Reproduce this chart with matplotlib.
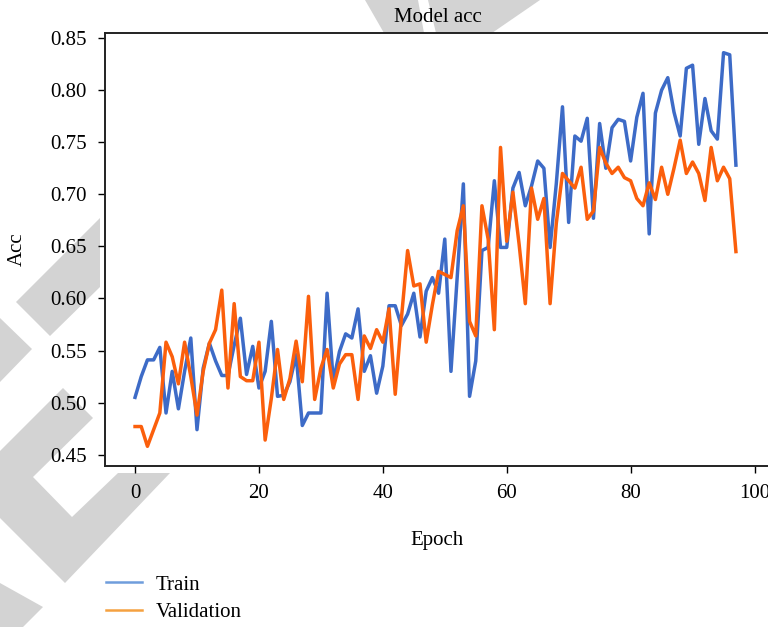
import numpy as np
import matplotlib
matplotlib.use('Agg')
import matplotlib.pyplot as plt
from matplotlib.lines import Line2D
from matplotlib.patches import Polygon

train = [0.505, 0.525, 0.541, 0.541, 0.553, 0.490, 0.530, 0.494, 0.530, 0.562,
         0.474, 0.533, 0.557, 0.540, 0.526, 0.526, 0.555, 0.581, 0.527, 0.554,
         0.514, 0.530, 0.578, 0.506, 0.507, 0.520, 0.546, 0.478, 0.490, 0.490,
         0.490, 0.605, 0.520, 0.549, 0.566, 0.562, 0.590, 0.530, 0.545, 0.509,
         0.535, 0.593, 0.593, 0.574, 0.585, 0.605, 0.563, 0.607, 0.620, 0.605,
         0.657, 0.530, 0.620, 0.710, 0.506, 0.540, 0.646, 0.649, 0.713, 0.649,
         0.649, 0.706, 0.721, 0.689, 0.708, 0.732, 0.725, 0.649, 0.710, 0.784,
         0.673, 0.756, 0.751, 0.773, 0.677, 0.768, 0.725, 0.764, 0.772, 0.770,
         0.732, 0.774, 0.797, 0.662, 0.778, 0.800, 0.812, 0.779, 0.756, 0.821,
         0.824, 0.748, 0.792, 0.761, 0.753, 0.836, 0.834, 0.728]

validation = [0.477, 0.477, 0.458, 0.474, 0.490, 0.558, 0.544, 0.518, 0.558, 0.525,
              0.488, 0.530, 0.557, 0.570, 0.608, 0.514, 0.595, 0.525, 0.521, 0.521,
              0.558, 0.464, 0.504, 0.551, 0.503, 0.523, 0.559, 0.520, 0.602, 0.503,
              0.533, 0.551, 0.514, 0.537, 0.546, 0.546, 0.503, 0.564, 0.552, 0.570,
              0.558, 0.590, 0.508, 0.581, 0.646, 0.612, 0.614, 0.558, 0.594, 0.626,
              0.623, 0.620, 0.665, 0.689, 0.578, 0.564, 0.689, 0.657, 0.570, 0.745,
              0.655, 0.702, 0.652, 0.595, 0.706, 0.676, 0.696, 0.595, 0.672, 0.720,
              0.713, 0.706, 0.726, 0.676, 0.684, 0.745, 0.730, 0.720, 0.726, 0.716,
              0.713, 0.696, 0.689, 0.711, 0.695, 0.726, 0.700, 0.725, 0.752, 0.720,
              0.731, 0.720, 0.694, 0.745, 0.713, 0.726, 0.715, 0.645]

epochs = np.arange(len(train))
labels = ['Train', 'Validation']

plt.rcParams['font.family'] = ['Liberation Serif', 'DejaVu Serif']
plt.rcParams['font.size'] = 15

W, H = 768, 627
fig = plt.figure(figsize=(W / 100, H / 100), dpi=100)

# grey watermark shapes behind the plot (pixel coords of the picture)
marks = [
    [(365, 0), (418, 0), (424, 33), (384, 33)],
    [(428, 0), (540, 0), (492, 33), (436, 33)],
    [(100, 218), (16, 302), (50, 336), (100, 287)],
    [(0, 318), (32, 349), (0, 382)],
    [(63, 388), (93, 418), (33, 477), (72, 517), (118, 473), (170, 473),
     (65, 583), (0, 518), (0, 451)],
    [(0, 583), (43, 607), (23, 627), (0, 627)],
]
for m in marks:
    pts = [(x / W, 1 - y / H) for x, y in m]
    fig.patches.append(Polygon(pts, closed=True, transform=fig.transFigure,
                               facecolor='#d3d3d3', edgecolor='none', zorder=-5))

ax = fig.add_axes([105 / W, 1 - 466 / H, (770 - 105) / W, (466 - 33) / H])
ax.set_facecolor('white')
ax.plot(epochs, train, color='#3d6bc7', lw=2.5)
ax.plot(epochs, validation, color='#fb5f0c', lw=2.5)
ax.set_xlim(-4.85, 102.5)

ax.set_yticks([0.45, 0.50, 0.55, 0.60, 0.65, 0.70, 0.75, 0.80, 0.85])
ax.set_xticks([0, 20, 40, 60, 80, 100])
ax.tick_params(length=5, width=1.0, pad=8)
for s in ax.spines.values():
    s.set_linewidth(1.4)
    s.set_color('#222222')

ax.set_title('Model acc', fontsize=15, pad=8)
ax.set_xlabel('Epoch', labelpad=20)
ax.set_ylabel('Acc', labelpad=17)

handles = [Line2D([], [], color='#6f9ddc', lw=1.8),
           Line2D([], [], color='#f5a140', lw=1.8)]
fig.legend(handles, labels, loc='upper left', frameon=False,
           bbox_to_anchor=(106 / W, 1 - 575 / H), borderpad=0, borderaxespad=0,
           handlelength=1.75, handletextpad=0.65, labelspacing=0.38)

fig.savefig('out.png', dpi=100)
